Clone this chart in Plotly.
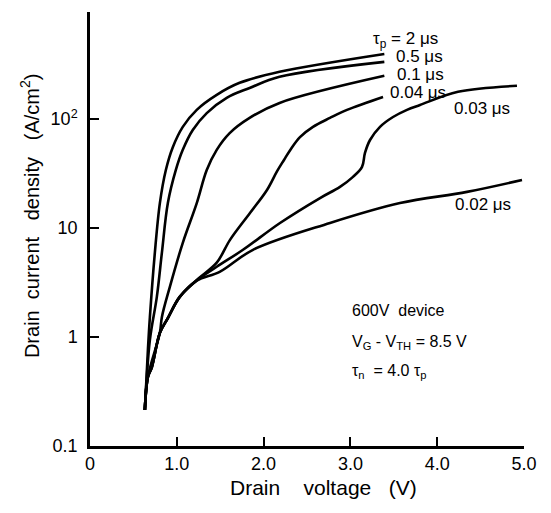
import plotly.graph_objects as go

# ---- data (drain voltage in V, current density in A/cm^2) ----
v_2us = [0.632, 0.667, 0.690, 0.747, 0.805, 0.874, 0.954, 1.069, 1.230, 1.460, 1.724, 2.184, 3.391]
j_2us = [0.214, 0.76, 1.52, 5.9, 16.9, 34, 55, 84.5, 121, 166, 214, 270, 394]

v_05us = [0.632, 0.690, 0.770, 0.828, 0.897, 0.989, 1.069, 1.184, 1.345, 1.575, 1.839, 2.184, 3.391]
j_05us = [0.214, 0.94, 2.33, 5.9, 16.9, 34, 52, 79, 113, 156, 192, 243, 333]

v_01us = [0.632, 0.667, 0.805, 0.828, 0.920, 1.069, 1.230, 1.345, 1.460, 1.609, 1.839, 2.184, 3.391]
j_01us = [0.214, 0.43, 1.09, 1.52, 2.88, 7.3, 16.9, 34, 52, 74, 102, 140, 248]

v_004us = [0.632, 0.667, 0.713, 0.805, 0.897, 1.034, 1.230, 1.460, 1.613, 1.843, 2.039, 2.154,
           2.235, 2.315, 2.419, 2.569, 2.765, 2.961, 3.376]
j_004us = [0.214, 0.43, 0.53, 1.09, 1.49, 2.33, 3.33, 4.8, 7.77, 13.7, 22.3, 33,
           42, 53, 68, 84.5, 102, 121, 159]

v_003us = [0.632, 0.667, 0.713, 0.805, 0.897, 1.034, 1.230, 1.460, 1.763, 2.189, 2.650, 2.880,
           3.030, 3.134, 3.168, 3.226, 3.341, 3.491, 3.652, 3.802, 4.240, 4.919]
j_003us = [0.214, 0.43, 0.53, 1.09, 1.49, 2.33, 3.30, 4.4, 6.3, 11.1, 18.8, 23.8,
           29.4, 36.3, 48.8, 64, 84.5, 104, 121, 134, 177, 201]

v_002us = [0.632, 0.667, 0.713, 0.805, 0.897, 1.034, 1.230, 1.494, 1.878, 2.765,
           3.571, 4.343, 4.977]
j_002us = [0.214, 0.43, 0.53, 1.09, 1.49, 2.33, 3.28, 3.95, 6.3, 11.1,
           16.9, 21.4, 27.5]

series = [
    (v_2us, j_2us),
    (v_05us, j_05us),
    (v_01us, j_01us),
    (v_004us, j_004us),
    (v_003us, j_003us),
    (v_002us, j_002us),
]

curve_labels = ["τ<sub>p</sub> = 2 μs", "0.5 μs", "0.1 μs", "0.04 μs", "0.03 μs", "0.02 μs"]
label_x = [3.63, 3.80, 3.81, 3.78, 4.52, 4.53]
label_logy = [2.725, 2.569, 2.404, 2.239, 2.092, 1.211]

y_tickvals = [0.1, 1, 10, 100]
y_ticktext = ["0.1", "1", "10", "10<sup>2</sup>"]
x_tickvals = [0, 1, 2, 3, 4, 5]
x_ticktext = ["0", "1.0", "2.0", "3.0", "4.0", "5.0"]

note_lines = ["600V\u00a0\u00a0device", "V<sub>G</sub>\u00a0-\u00a0V<sub>TH</sub> = 8.5 V",
              "τ<sub>n</sub>\u00a0\u00a0= 4.0 τ<sub>p</sub>"]
note_logy = [0.239, -0.055, -0.321]

FONT = "Liberation Sans"

fig = go.Figure()
for v, j in series:
    fig.add_trace(go.Scatter(x=v, y=j, mode="lines",
                             line=dict(color="black", width=2.6, shape="spline", smoothing=1.0),
                             showlegend=False, hoverinfo="skip"))

annotations = []
for t, x, y in zip(curve_labels, label_x, label_logy):
    annotations.append(dict(x=x, y=y, xref="x", yref="y", text=t, showarrow=False,
                            xanchor="center", yanchor="middle",
                            font=dict(family=FONT, size=17, color="black")))
for t, y in zip(note_lines, note_logy):
    annotations.append(dict(x=3.0, y=y, xref="x", yref="y", text=t, showarrow=False,
                            xanchor="left", yanchor="middle",
                            font=dict(family=FONT, size=16, color="black")))

annotations.append(dict(x=0.539, y=-0.0945, xref="paper", yref="paper",
                        xanchor="center", yanchor="middle",
                        text="Drain\u00a0\u00a0\u00a0\u00a0voltage\u00a0\u00a0\u00a0(V)", showarrow=False,
                        font=dict(family=FONT, size=21, color="black")))
annotations.append(dict(x=-0.138, y=0.53, xref="paper", yref="paper", textangle=-90,
                        xanchor="center", yanchor="middle",
                        text="Drain\u00a0\u00a0current\u00a0\u00a0\u00a0density\u00a0\u00a0\u00a0(A/cm<sup>2</sup>)",
                        showarrow=False, font=dict(family=FONT, size=20, color="black")))

fig.update_layout(
    width=551, height=513,
    margin=dict(l=90, r=27, t=12, b=67),
    paper_bgcolor="white", plot_bgcolor="white",
    annotations=annotations,
    xaxis=dict(range=[0, 5], tickvals=x_tickvals, ticktext=x_ticktext,
               showline=True, linecolor="black", linewidth=2.5, showgrid=False, zeroline=False,
               ticks="inside", ticklen=9, tickwidth=1.5, tickcolor="black",
               tickfont=dict(family=FONT, size=18, color="black"), mirror=False),
    yaxis=dict(type="log", range=[-1, 2.98], tickvals=y_tickvals, ticktext=y_ticktext,
               showline=True, linecolor="black", linewidth=2.5, showgrid=False, zeroline=False,
               ticks="inside", ticklen=9, tickwidth=1.5, tickcolor="black",
               ticklabelstandoff=6,
               tickfont=dict(family=FONT, size=18, color="black")),
)

fig.write_html("out.html")
